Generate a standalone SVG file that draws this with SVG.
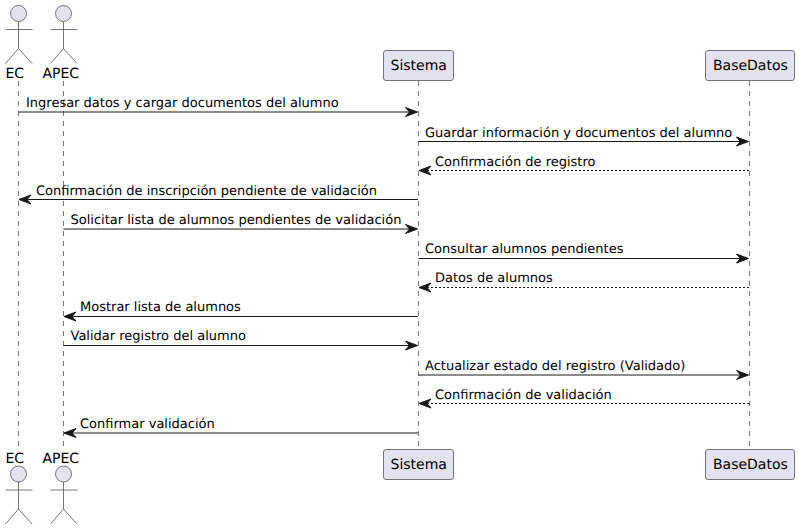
<svg xmlns="http://www.w3.org/2000/svg" width="799" height="530" viewBox="0 0 799 530">
<style>
text{font-family:"DejaVu Sans",sans-serif;fill:#000;text-rendering:geometricPrecision}
.m{font-size:13px}
.n{font-size:14px}
.life{stroke:#555;stroke-width:.8;stroke-dasharray:5,5;fill:none}
.box{fill:#E2E2F0;stroke:#555;stroke-width:.8}
.actor{fill:none;stroke:#555;stroke-width:.8}
.head{fill:#E2E2F0;stroke:#555;stroke-width:.8}
.s{stroke:#181818;stroke-width:1;fill:none}
.d{stroke:#181818;stroke-width:1;fill:none;stroke-dasharray:2,2}
.ah{fill:#181818;stroke:#181818;stroke-width:1;stroke-linejoin:miter}
</style>
<defs>
<g id="stick"><circle class="head" cx="0" cy="0" r="8"/><path class="actor" d="M0,8V35M-13,16H14M0,35L-13,50M0,35L13.500,50"/></g>
<path id="ar" class="ah" d="M0,0L-12,-4.500L-8,0L-12,4.500Z"/>
<path id="al" class="ah" d="M0,0L12,-4.500L8,0L12,4.500Z"/>
</defs>
<g id="lifelines">
<path class="life" d="M18.500,81V447"/><path class="life" d="M63.500,81V447"/><path class="life" d="M418.500,81V447"/><path class="life" d="M749.500,81V447"/>
</g>
<g id="node-EC"><use href="#stick" x="18.500" y="13.500"/><text class="n" x="5.500" y="78">EC</text><use href="#stick" x="18.500" y="474"/><text class="n" x="5.500" y="463">EC</text></g>
<g id="node-APEC"><use href="#stick" x="63.500" y="13.500"/><text class="n" x="42.500" y="78">APEC</text><use href="#stick" x="63.500" y="474"/><text class="n" x="42.500" y="463">APEC</text></g>
<g id="node-Sistema"><rect class="box" x="383.500" y="50.500" width="70" height="30" rx="2.500"/><text class="n" x="390.500" y="70">Sistema</text><rect class="box" x="383.500" y="449.500" width="70" height="30" rx="2.500"/><text class="n" x="390.500" y="469">Sistema</text></g>
<g id="node-BaseDatos"><rect class="box" x="705.500" y="50.500" width="89" height="30" rx="2.500"/><text class="n" x="713" y="70">BaseDatos</text><rect class="box" x="705.500" y="449.500" width="89" height="30" rx="2.500"/><text class="n" x="713" y="469">BaseDatos</text></g>
<g id="connectors">
<path class="s" d="M18.500,112H412"/><use href="#ar" x="417.500" y="112"/>
<text class="m" x="26" y="107">Ingresar datos y cargar documentos del alumno</text>
<path class="s" d="M418.500,141.500H743"/><use href="#ar" x="748.500" y="141.500"/>
<text class="m" x="425" y="136.500">Guardar información y documentos del alumno</text>
<path class="d" d="M749,170.500H425"/><use href="#al" x="419" y="170.500"/>
<text class="m" x="435" y="166">Confirmación de registro</text>
<path class="s" d="M418,199.500H25"/><use href="#al" x="19" y="199.500"/>
<text class="m" x="36" y="195">Confirmación de inscripción pendiente de validación</text>
<path class="s" d="M63.500,229H412"/><use href="#ar" x="417.500" y="229"/>
<text class="m" x="70.500" y="224">Solicitar lista de alumnos pendientes de validación</text>
<path class="s" d="M418.500,258.500H743"/><use href="#ar" x="748.500" y="258.500"/>
<text class="m" x="425" y="253">Consultar alumnos pendientes</text>
<path class="d" d="M749,287.500H425"/><use href="#al" x="419" y="287.500"/>
<text class="m" x="435" y="282">Datos de alumnos</text>
<path class="s" d="M418,316.500H70"/><use href="#al" x="64" y="316.500"/>
<text class="m" x="80" y="311">Mostrar lista de alumnos</text>
<path class="s" d="M63.500,345.500H412"/><use href="#ar" x="417.500" y="345.500"/>
<text class="m" x="70.500" y="340">Validar registro del alumno</text>
<path class="s" d="M418.500,375H743"/><use href="#ar" x="748.500" y="375"/>
<text class="m" x="425" y="370">Actualizar estado del registro (Validado)</text>
<path class="d" d="M749,403.500H425"/><use href="#al" x="419" y="403.500"/>
<text class="m" x="435" y="399">Confirmación de validación</text>
<path class="s" d="M418,433H70"/><use href="#al" x="64" y="433"/>
<text class="m" x="80" y="428">Confirmar validación</text>
</g>
</svg>
